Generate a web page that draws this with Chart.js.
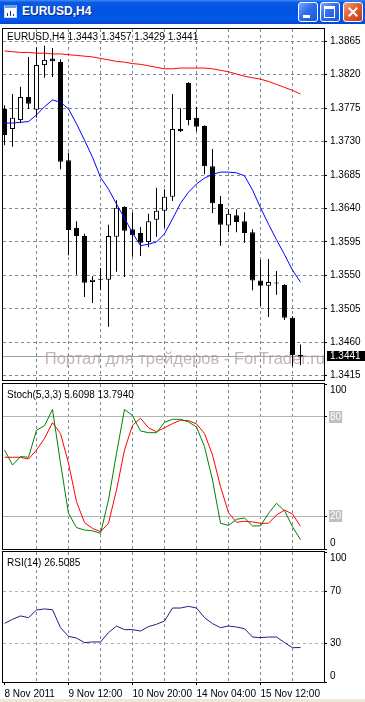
<!DOCTYPE html>
<html>
<head>
<meta charset="utf-8">
<script src="https://cdn.jsdelivr.net/npm/chart.js@4.4.1/dist/chart.umd.min.js"></script>
<style>
html, body { margin: 0; padding: 0; }
body { width: 365px; height: 702px; position: relative; overflow: hidden; background: #fff; }
#titlebar { position: absolute; left: 0; top: 0; width: 365px; height: 24px;
  background: linear-gradient(to bottom, #3f8cf3 0%, #0a5ae6 10%, #0053e1 45%, #0259ea 80%, #0047d0 100%); }
#titlebar .icon { position: absolute; left: 4px; top: 5px; width: 11px; height: 9px; background: #fff; border: 1px solid #c8d8f8; border-top: 3px solid #6a9cf0; }
#titlebar .icon i { position: absolute; bottom: 1px; width: 1px; background: #1a3a9a; }
#titlebar .caption { position: absolute; left: 22px; top: 4px; line-height: 14px; color: #fff;
  font: bold 12px "Liberation Sans", Arial, sans-serif; text-shadow: 1px 1px 0 #0b2a8a; }
.btn { position: absolute; top: 2px; width: 18px; height: 18px; border: 1px solid #fff; border-radius: 3px;
  background: linear-gradient(135deg, #7aa8ff 0%, #2f6df0 45%, #1b55d8 100%); }
.btn.close { background: linear-gradient(135deg, #f0a080 0%, #e0592f 50%, #c33c16 100%); }
.btn .min { position: absolute; left: 4px; top: 12px; width: 7px; height: 3px; background: #fff; }
.btn .max { position: absolute; left: 3px; top: 3px; border: 1px solid #fff; border-top-width: 3px; width: 9px; height: 8px; }
.btn .x1, .btn .x2 { position: absolute; left: 8px; top: 3px; width: 2px; height: 12px; background: #fff; }
.btn .x1 { transform: rotate(45deg); }
.btn .x2 { transform: rotate(-45deg); }
canvas { position: absolute; left: 0; }
#footer { position: absolute; left: 0; top: 699px; width: 365px; height: 3px; background: #ece9d8; }
</style>
</head>
<body>
<div id="titlebar">
  <div class="icon"><i style="left:2px;height:3px"></i><i style="left:5px;height:5px"></i><i style="left:8px;height:2px"></i></div>
  <div class="caption">EURUSD,H4</div>
  <div class="btn" style="left:298px"><div class="min"></div></div>
  <div class="btn" style="left:320px"><div class="max"></div></div>
  <div class="btn close" style="left:343px"><div class="x1"></div><div class="x2"></div></div>
</div>
<canvas id="main" width="365" height="356" style="top:25px"></canvas>
<canvas id="stoch" width="365" height="170" style="top:381px"></canvas>
<canvas id="rsi" width="365" height="151" style="top:551px"></canvas>
<div id="footer"></div>
<script>
// EURUSD H4 bars, 8 Nov 2011 04:00 .. 15 Nov 2011
var opens = [1.3774, 1.3747, 1.3759, 1.3790, 1.3773, 1.3833, 1.3842, 1.3837, 1.3705, 1.3614,
             1.3603, 1.3541, 1.3544, 1.3544, 1.3602, 1.3642, 1.3612, 1.3607, 1.3595, 1.3625,
             1.3637, 1.3656, 1.3747, 1.3809, 1.3762, 1.3751, 1.3697, 1.3646, 1.3617, 1.3631,
             1.3623, 1.3608, 1.3543, 1.3536, 1.3540, 1.3537, 1.3493, 1.3443];
var highs = [1.3779, 1.3794, 1.3804, 1.3844, 1.3857, 1.3859, 1.3856, 1.3841, 1.3715, 1.3623,
             1.3606, 1.3549, 1.3560, 1.3618, 1.3651, 1.3643, 1.3635, 1.3615, 1.3633, 1.3668,
             1.3666, 1.3794, 1.3775, 1.3810, 1.3777, 1.3752, 1.3720, 1.3657, 1.3639, 1.3639,
             1.3635, 1.3612, 1.3571, 1.3572, 1.3556, 1.3538, 1.3495, 1.3457];
var lows = [1.3725, 1.3723, 1.3755, 1.3774, 1.3762, 1.3816, 1.3817, 1.3693, 1.3577, 1.3551,
            1.3521, 1.3513, 1.3530, 1.3481, 1.3555, 1.3548, 1.3575, 1.3576, 1.3588, 1.3602,
            1.3614, 1.3650, 1.3743, 1.3752, 1.3744, 1.3686, 1.3634, 1.3590, 1.3608, 1.3608,
            1.3594, 1.3530, 1.3509, 1.3494, 1.3524, 1.3490, 1.3428, 1.3429];
var closes = [1.3739, 1.3762, 1.3790, 1.3781, 1.3833, 1.3840, 1.3838, 1.3703, 1.3611, 1.3603,
              1.3540, 1.3544, 1.3545, 1.3603, 1.3641, 1.3610, 1.3604, 1.3594, 1.3623, 1.3637,
              1.3656, 1.3747, 1.3744, 1.3759, 1.3750, 1.3697, 1.3647, 1.3618, 1.3633, 1.3622,
              1.3607, 1.3543, 1.3536, 1.3541, 1.3539, 1.3493, 1.3443, 1.3441];

var maSlow = [1.3852, 1.3851, 1.3850, 1.3850, 1.3849, 1.3849, 1.3848, 1.3848, 1.3847, 1.3846,
              1.3845, 1.3844, 1.3842, 1.3840, 1.3838, 1.3837, 1.3835, 1.3834, 1.3832, 1.3830,
              1.3828, 1.3828, 1.3829, 1.3829, 1.3829, 1.3829, 1.3828, 1.3826, 1.3824, 1.3821,
              1.3818, 1.3816, 1.3814, 1.3811, 1.3807, 1.3803, 1.3799, 1.3794];
var maFast = [1.3755, 1.3755, 1.3756, 1.3757, 1.3766, 1.3777, 1.3786, 1.3783, 1.3774, 1.3754,
              1.3732, 1.3709, 1.3682, 1.3666, 1.3646, 1.3627, 1.3607, 1.3590, 1.3592, 1.3595,
              1.3606, 1.3626, 1.3647, 1.3662, 1.3673, 1.3681, 1.3686, 1.3689, 1.3689, 1.3688,
              1.3684, 1.3665, 1.3641, 1.3619, 1.3598, 1.3578, 1.3557, 1.3541];

var stochMain = [60, 50.9, 56, 55.6, 72, 74.7, 84.6, 52, 21.6, 13,
                 11.5, 11, 9.5, 29.7, 58, 84.6, 80.8, 71.5, 70.5, 70.5,
                 76.8, 78.6, 78.6, 77, 74, 62, 41.8, 15.6, 14.3, 18,
                 18.8, 14, 14, 21.6, 27.7, 23.2, 13.5, 5.6098];
var stochSignal = [55.6, 55.6, 55.6, 54.5, 60, 67, 76.6, 70, 52, 28.7,
                   16, 12.5, 10.5, 15.6, 35.8, 60, 75, 79.2, 73.5, 71,
                   73.5, 76, 78, 77.8, 75.8, 70, 57, 37.8, 22, 16.2,
                   16.8, 16.4, 15.6, 15.6, 20.6, 23.6, 21.2, 13.7940];
var rsiValues = [45.1, 48.2, 50.8, 49.5, 55.4, 56.2, 55.6, 41.8, 35.1, 33.8,
                 30.3, 30.8, 30.8, 38, 43, 40.3, 40.3, 39.2, 42.6, 44.4,
                 46.9, 56.9, 56.9, 58.2, 56.9, 49.5, 44.9, 41.8, 43.1, 42.3,
                 41, 34.6, 34.1, 34.6, 34.6, 30.3, 26.4, 26.5085];

var priceTicks = [1.3865, 1.3820, 1.3775, 1.3730, 1.3685, 1.3640, 1.3595, 1.3550, 1.3505, 1.3460, 1.3415];
var stochTicks = [100, 80, 20, 0];
var stochLevels = [80, 20];
var rsiTicks = [100, 70, 30, 0];
var rsiLevels = [70, 30];
var gridBars = [0, 4, 8, 12, 16, 20, 24, 28, 32, 36];
var timeTickBars = [0, 8, 16, 24, 32];
var timeLabels = ['8 Nov 2011', '9 Nov 12:00', '10 Nov 20:00', '14 Nov 04:00', '15 Nov 12:00'];

var FONT = '"Liberation Sans", Arial, sans-serif';
Chart.defaults.font.family = FONT;
Chart.defaults.font.size = 10;
Chart.defaults.color = '#000';

var GRID = '#778899';
var LEVEL = '#b4b4b4';
var NONE = 'rgba(0,0,0,0)';
var last = closes.length - 1;

function pts(arr) { return arr.map((v, i) => ({ x: i, y: v })); }

// keep axis boxes from pushing the plot area in
function noPad(s) { s.paddingTop = 0; s.paddingBottom = 0; s.paddingLeft = 0; s.paddingRight = 0; }

function xAxis(withLabels) {
  return {
    type: 'linear', min: -0.1875, max: 39.9375, offset: false,
    afterBuildTicks: s => { s.ticks = gridBars.map(v => ({ value: v })); },
    afterFit: s => { s.height = withLabels ? 20 : 0; noPad(s); },
    grid: {
      offset: false,
      color: c => (c.tick && c.tick.value === 0) ? NONE : GRID,
      drawTicks: withLabels, tickLength: 3, tickBorderDash: [],
      tickColor: c => (c.tick && timeTickBars.indexOf(c.tick.value) >= 0) ? '#000' : NONE
    },
    border: { display: false, dash: [3, 3] },
    ticks: {
      display: withLabels, autoSkip: false, maxRotation: 0, minRotation: 0, align: 'start', padding: 3,
      callback: v => { var k = timeTickBars.indexOf(v); return k >= 0 ? timeLabels[k] : ''; }
    }
  };
}

// edge labels of the oscillator scales sit inside the panel, like the terminal draws them
function edgeLabel(list) {
  return v => {
    if (v === list[0]) return ['', String(v)];
    if (v === list[list.length - 1]) return [String(v), ''];
    return String(v);
  };
}

var framePlugin = {
  id: 'frame',
  afterDraw(chart) {
    var ctx = chart.ctx, a = chart.chartArea;
    ctx.save();
    ctx.strokeStyle = '#000';
    ctx.lineWidth = 1;
    ctx.strokeRect(Math.round(a.left) - 0.5, Math.round(a.top) - 0.5,
                   Math.round(a.right - a.left) + 1, Math.round(a.bottom - a.top) + 1);
    ctx.restore();
  }
};

function caption(text, dy) {
  return {
    id: 'caption',
    afterDatasetsDraw(chart) {
      var ctx = chart.ctx, a = chart.chartArea;
      ctx.save();
      ctx.font = '10px ' + FONT;
      ctx.fillStyle = '#000';
      ctx.textBaseline = 'top';
      ctx.fillText(text, a.left + 4, a.top + dy);
      ctx.restore();
    }
  };
}

var bidPlugin = {
  id: 'bid',
  beforeDatasetsDraw(chart) {
    var ctx = chart.ctx, a = chart.chartArea;
    var py = Math.round(chart.scales.y.getPixelForValue(closes[last])) + 0.5;
    ctx.save();
    ctx.font = '16.5px ' + FONT;
    ctx.fillStyle = '#c6b3b3';
    ctx.textAlign = 'right';
    ctx.textBaseline = 'alphabetic';
    ctx.fillText('Портал для трейдеров - ForTrader.ru', a.right + 1, a.bottom - 16);
    ctx.strokeStyle = '#a0a0a0';
    ctx.lineWidth = 1;
    ctx.beginPath();
    ctx.moveTo(a.left, py);
    ctx.lineTo(a.right, py);
    ctx.stroke();
    ctx.restore();
  },
  afterDraw(chart) {
    var ctx = chart.ctx, a = chart.chartArea;
    var py = Math.round(chart.scales.y.getPixelForValue(closes[last]));
    ctx.save();
    ctx.fillStyle = '#000';
    ctx.fillRect(a.right + 3, py - 5, 38, 10);
    ctx.fillStyle = '#fff';
    ctx.font = '10px ' + FONT;
    ctx.textBaseline = 'middle';
    ctx.fillText(closes[last].toFixed(4), a.right + 6, py + 0.5);
    ctx.restore();
  }
};

// main price chart
new Chart(document.getElementById('main'), {
  type: 'bar',
  data: {
    datasets: [
      { type: 'line', data: pts(maSlow), borderColor: '#ff0000', borderWidth: 1, pointRadius: 0, order: 0 },
      { type: 'line', data: pts(maFast), borderColor: '#0000ff', borderWidth: 1, pointRadius: 0, order: 0 },
      {
        data: opens.map((o, i) => ({ x: i, y: [o, closes[i]] })),
        backgroundColor: opens.map((o, i) => closes[i] >= o ? '#ffffff' : '#000000'),
        borderColor: '#000', borderWidth: 1, borderSkipped: false, inflateAmount: 0,
        barThickness: 5, minBarLength: 1, grouped: false, order: 1
      },
      {
        data: lows.map((l, i) => ({ x: i, y: [l, highs[i]] })),
        backgroundColor: '#000', borderWidth: 0, inflateAmount: 0,
        barThickness: 1, grouped: false, order: 2
      }
    ]
  },
  options: {
    responsive: false, animation: false, events: [],
    layout: { padding: { top: 4, bottom: 1, left: 3, right: 0 } },
    plugins: { legend: { display: false }, tooltip: { enabled: false } },
    scales: {
      x: xAxis(false),
      y: {
        type: 'linear', position: 'right', min: 1.340927, max: 1.388155,
        afterBuildTicks: s => { s.ticks = priceTicks.map(v => ({ value: v })); },
        afterFit: s => { s.width = 41; noPad(s); },
        grid: { color: GRID, tickLength: 3, tickColor: '#000', tickBorderDash: [] },
        border: { display: false, dash: [3, 3] },
        ticks: { autoSkip: false, padding: 3, callback: v => v.toFixed(4) }
      }
    }
  },
  plugins: [bidPlugin, framePlugin,
    caption('EURUSD,H4 ' + [opens[last], highs[last], lows[last], closes[last]].map(v => v.toFixed(4)).join(' '), 3)]
});

// stochastic
new Chart(document.getElementById('stoch'), {
  type: 'line',
  data: {
    datasets: [
      { data: pts(stochMain), borderColor: '#008000', borderWidth: 1, pointRadius: 0 },
      { data: pts(stochSignal), borderColor: '#ff0000', borderWidth: 1, pointRadius: 0 }
    ]
  },
  options: {
    responsive: false, animation: false, events: [],
    layout: { padding: { top: 3, bottom: 2, left: 3, right: 0 } },
    plugins: { legend: { display: false }, tooltip: { enabled: false } },
    scales: {
      x: xAxis(false),
      y: {
        type: 'linear', position: 'right', min: 0, max: 100,
        afterBuildTicks: s => { s.ticks = stochTicks.map(v => ({ value: v })); },
        afterFit: s => { s.width = 41; noPad(s); },
        grid: {
          color: c => (c.tick && stochLevels.indexOf(c.tick.value) >= 0) ? LEVEL : NONE,
          tickLength: 3, tickColor: '#000', tickBorderDash: []
        },
        border: { display: false },
        ticks: {
          autoSkip: false, padding: 3, callback: edgeLabel(stochTicks),
          color: c => stochLevels.indexOf(c.tick.value) >= 0 ? '#ffffff' : '#000000',
          showLabelBackdrop: c => stochLevels.indexOf(c.tick.value) >= 0,
          backdropColor: '#c0c0c0', backdropPadding: { top: 0, bottom: 0, left: 1, right: 1 }
        }
      }
    }
  },
  plugins: [framePlugin,
    caption('Stoch(5,3,3) ' + stochMain[last].toFixed(4) + ' ' + stochSignal[last].toFixed(4), 6)]
});

// RSI
new Chart(document.getElementById('rsi'), {
  type: 'line',
  data: {
    datasets: [
      { data: pts(rsiValues), borderColor: '#1e1e80', borderWidth: 1, pointRadius: 0 }
    ]
  },
  options: {
    responsive: false, animation: false, events: [],
    layout: { padding: { top: 1, bottom: 0, left: 3, right: 0 } },
    plugins: { legend: { display: false }, tooltip: { enabled: false } },
    scales: {
      x: xAxis(true),
      y: {
        type: 'linear', position: 'right', min: 0, max: 100,
        afterBuildTicks: s => { s.ticks = rsiTicks.map(v => ({ value: v })); },
        afterFit: s => { s.width = 41; noPad(s); },
        grid: {
          color: c => (c.tick && rsiLevels.indexOf(c.tick.value) >= 0) ? LEVEL : NONE,
          tickLength: 3, tickColor: '#000', tickBorderDash: []
        },
        border: { display: false, dash: [3, 3] },
        ticks: { autoSkip: false, padding: 3, callback: edgeLabel(rsiTicks) }
      }
    }
  },
  plugins: [framePlugin, caption('RSI(14) ' + rsiValues[last].toFixed(4), 6)]
});
</script>
</body>
</html>
